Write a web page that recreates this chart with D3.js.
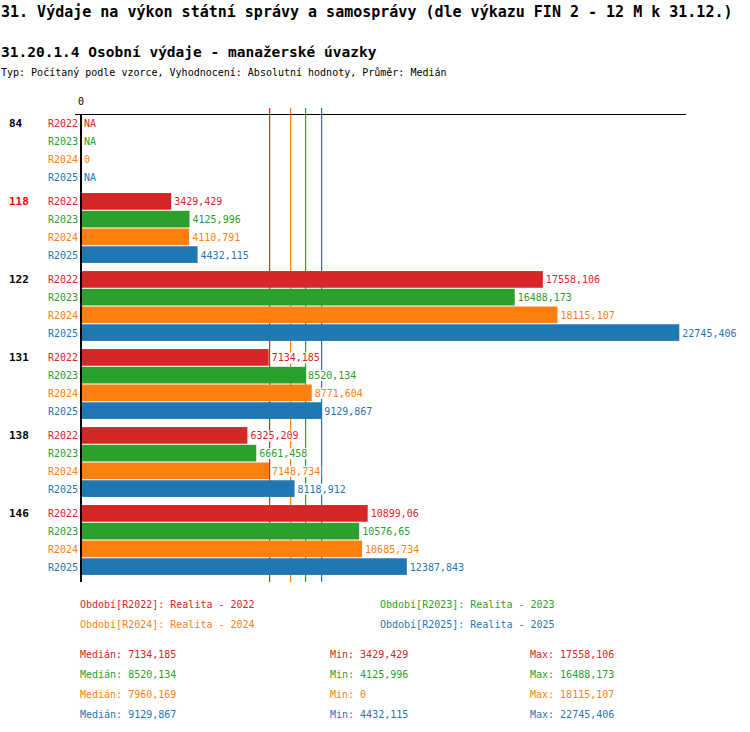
<!DOCTYPE html>
<html>
<head>
<meta charset="utf-8">
<script src="https://cdn.jsdelivr.net/npm/d3@7"></script>
<style>
  body { margin: 0; background: #fff; }
  text { font-family: "DejaVu Sans Mono", "Liberation Mono", monospace; }
</style>
</head>
<body>
<svg id="chart"></svg>
<script>
// values in thousands (CZK), null = NA
const categories = ["84", "118", "122", "131", "138", "146"];
const series = ["R2022", "R2023", "R2024", "R2025"];
const seriesNames = ["Realita - 2022", "Realita - 2023", "Realita - 2024", "Realita - 2025"];
const colors = ["#d62728", "#2ca02c", "#ff7f0e", "#1f77b4"];
const r2022 = [null, 3429.429, 17558.106, 7134.185, 6325.209, 10899.06];
const r2023 = [null, 4125.996, 16488.173, 8520.134, 6661.458, 10576.65];
const r2024 = [0, 4110.791, 18115.107, 8771.604, 7148.734, 10685.734];
const r2025 = [null, 4432.115, 22745.406, 9129.867, 8118.912, 12387.843];
const values = [r2022, r2023, r2024, r2025];
const highlight = "118";

const width = 750, height = 732;
const svg = d3.select("#chart").attr("width", width).attr("height", height);

const fmt = v => v == null ? "NA" : String(+v.toFixed(3)).replace(".", ",");

// titles
svg.append("text").attr("x", 1).attr("y", 17)
    .attr("font-size", 15).attr("font-weight", "bold")
    .text("31. Výdaje na výkon státní správy a samosprávy (dle výkazu FIN 2 - 12 M k 31.12.)");
svg.append("text").attr("x", 1).attr("y", 57)
    .attr("font-size", 14.5).attr("font-weight", "bold")
    .text("31.20.1.4 Osobní výdaje - manažerské úvazky");
svg.append("text").attr("x", 1).attr("y", 76)
    .attr("font-size", 10)
    .text("Typ: Počítaný podle vzorce, Vyhodnocení: Absolutní hodnoty, Průměr: Medián");

const x = d3.scaleLinear().domain([0, 23000]).range([81, 686]);
const y0 = d3.scaleBand().domain(categories).range([114, 582]);
const y1 = d3.scaleBand().domain(series).range([0, 72]).padding(0.06);

const stats = values.map((v, i) => {
    const ok = v.filter(d => d != null);
    return { color: colors[i], median: d3.median(ok), min: d3.min(ok), max: d3.max(ok) };
});

// median lines (1px rects)
svg.append("g")
    .selectAll("rect")
    .data(stats)
    .join("rect")
    .attr("x", d => Math.round(x(d.median)))
    .attr("width", 1.2)
    .attr("y", 108).attr("height", 474)
    .attr("fill", d => d.color);

const rows = [];
categories.forEach((c, ci) => series.forEach((s, si) => {
    rows.push({ cat: c, s, si, v: values[si][ci] });
}));

const rowY = d => y0(d.cat) + y1(d.s);

// bars
svg.append("g").selectAll("rect")
    .data(rows.filter(d => d.v != null && d.v > 0))
    .join("rect")
    .attr("x", x(0))
    .attr("y", d => rowY(d))
    .attr("width", d => x(d.v) - x(0))
    .attr("height", y1.bandwidth())
    .attr("fill", d => colors[d.si]);

// value labels with white background
const vl = svg.append("g").selectAll("g")
    .data(rows)
    .join("g")
    .attr("transform", d => `translate(${(d.v ? x(d.v) : x(0)) + 3},${rowY(d) + y1.bandwidth() / 2})`);
vl.append("rect").attr("fill", "#fff");
vl.append("text")
    .attr("y", 4)
    .attr("font-size", 10)
    .attr("fill", d => colors[d.si])
    .text(d => fmt(d.v));
vl.each(function () {
    const b = d3.select(this).select("text").node().getBBox();
    d3.select(this).select("rect")
        .attr("x", b.x - 1).attr("y", b.y).attr("width", b.width + 2).attr("height", b.height);
});

// series labels
svg.append("g").selectAll("text")
    .data(rows)
    .join("text")
    .attr("x", 78)
    .attr("y", d => rowY(d) + y1.bandwidth() / 2 + 4)
    .attr("text-anchor", "end")
    .attr("font-size", 10)
    .attr("fill", d => colors[d.si])
    .text(d => d.s);

// category labels
svg.append("g").selectAll("text")
    .data(categories)
    .join("text")
    .attr("x", 9)
    .attr("y", c => y0(c) + y1(series[0]) + y1.bandwidth() / 2 + 4)
    .attr("font-size", 11).attr("font-weight", "bold")
    .attr("fill", c => c === highlight ? "#ff0000" : "#000")
    .text(c => c);

// axes
svg.append("line").attr("x1", 75).attr("x2", 686).attr("y1", 114.5).attr("y2", 114.5)
    .attr("stroke", "#000").attr("stroke-width", 1.2);
svg.append("line").attr("x1", x(0)).attr("x2", x(0)).attr("y1", 114).attr("y2", 582)
    .attr("stroke", "#000").attr("stroke-width", 2);
svg.append("text").attr("x", x(0)).attr("y", 105).attr("text-anchor", "middle")
    .attr("font-size", 10).text("0");

// legend
svg.append("g").selectAll("text")
    .data(series)
    .join("text")
    .attr("x", (d, i) => i % 2 === 0 ? 80 : 380)
    .attr("y", (d, i) => 608 + Math.floor(i / 2) * 20)
    .attr("font-size", 10)
    .attr("fill", (d, i) => colors[i])
    .text((d, i) => `Období[${d}]: ${seriesNames[i]}`);

// stats
const st = svg.append("g").selectAll("g")
    .data(stats)
    .join("g")
    .attr("transform", (d, i) => `translate(0,${658 + i * 20})`)
    .attr("fill", d => d.color)
    .attr("font-size", 10);
st.append("text").attr("x", 80).text(d => "Medián: " + fmt(d.median));
st.append("text").attr("x", 330).text(d => "Min: " + fmt(d.min));
st.append("text").attr("x", 530).text(d => "Max: " + fmt(d.max));
</script>
</body>
</html>
